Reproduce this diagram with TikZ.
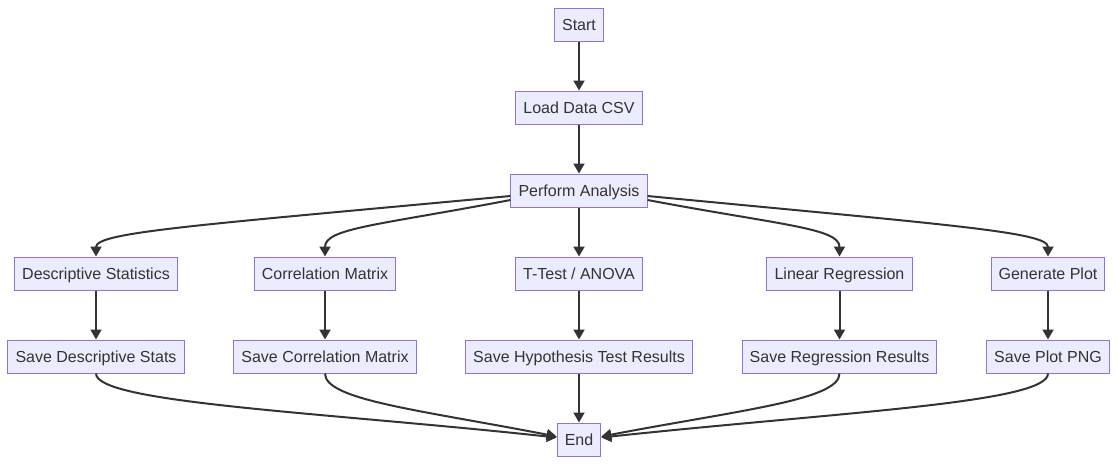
\documentclass[tikz,border=0pt]{standalone}
\usepackage{fontspec}
\setmainfont{Liberation Sans}
\usetikzlibrary{arrows.meta,calc}
\definecolor{nodefill}{HTML}{ECECFF}
\definecolor{nodeline}{HTML}{9370DB}
\definecolor{edgecol}{HTML}{333333}
\tikzset{
  box/.style={draw=nodeline, fill=nodefill, line width=1pt, text=edgecol,
    font=\fontsize{16}{19}\selectfont, inner xsep=7.6pt, inner ysep=0pt,
    text height=13pt, text depth=1.5pt,
    minimum height=33pt, anchor=center},
  link/.style={draw=edgecol, line width=2pt,
    -{Triangle[length=10pt,width=11pt]}},
}
\begin{document}
\begin{tikzpicture}[x=1pt,y=-1pt]
\useasboundingbox (0,0) rectangle (1118,464);
\node[box] (start) at (579,24.5) {Start};
\node[box] (load) at (579,107.5) {Load Data CSV};
\node[box] (pa) at (579,190.5) {Perform Analysis};
\node[box] (ds) at (96,273.5) {Descriptive Statistics};
\node[box] (cm) at (325,273.5) {Correlation Matrix};
\node[box] (tt) at (579,273.5) {T-Test / ANOVA};
\node[box] (lr) at (839.5,273.5) {Linear Regression};
\node[box] (gp) at (1048,273.5) {Generate Plot};
\node[box] (sds) at (96,356.5) {Save Descriptive Stats};
\node[box] (scm) at (325,356.5) {Save Correlation Matrix};
\node[box] (sht) at (579,356.5) {Save Hypothesis Test Results};
\node[box] (srr) at (839.5,356.5) {Save Regression Results};
\node[box] (spp) at (1048,356.5) {Save Plot PNG};
\node[box] (end) at (579,439.5) {End};

\draw[link] (start) -- (load);
\draw[link] (load) -- (pa);
\draw[link] ($(pa.west)+(0,5.5)$) .. controls (200,225) and (ds.north |- 0,232) .. (ds.north);
\draw[link] ($(pa.west)+(0,9.5)$) .. controls (380,225) and (cm.north |- 0,228) .. (cm.north);
\draw[link] (pa) -- (tt);
\draw[link] ($(pa.east)+(0,9.5)$) .. controls (780,225) and (lr.north |- 0,228) .. (lr.north);
\draw[link] ($(pa.east)+(0,5.5)$) .. controls (950,225) and (gp.north |- 0,232) .. (gp.north);
\draw[link] (ds) -- (sds);
\draw[link] (cm) -- (scm);
\draw[link] (tt) -- (sht);
\draw[link] (lr) -- (srr);
\draw[link] (gp) -- (spp);
\draw[link] (sds.south) .. controls (sds.south |- 0,403) and (320,412) .. ($(end.west)+(0,-2)$);
\draw[link] (scm.south) .. controls (scm.south |- 0,400) and (420,410) .. ($(end.west)+(0,-3)$);
\draw[link] (sht) -- (end);
\draw[link] (srr.south) .. controls (srr.south |- 0,400) and (740,410) .. ($(end.east)+(0,-3)$);
\draw[link] (spp.south) .. controls (spp.south |- 0,403) and (840,412) .. ($(end.east)+(0,-2)$);
\end{tikzpicture}
\end{document}
